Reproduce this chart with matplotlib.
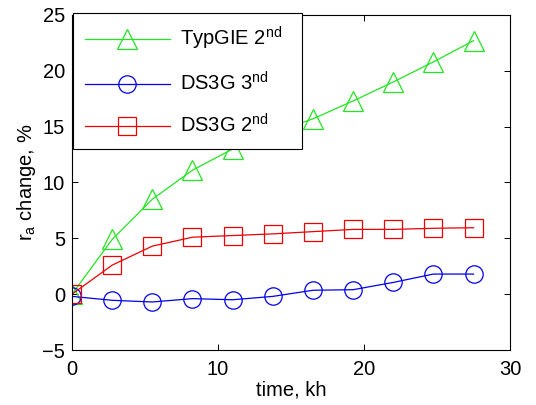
import matplotlib
matplotlib.use("Agg")
import matplotlib.pyplot as plt

time_kh = [0, 2.75, 5.5, 8.25, 11.0, 13.75, 16.5, 19.25, 22.0, 24.75, 27.5]
typgie_2nd = [0, 4.9, 8.5, 11.1, 13.0, 14.4, 15.7, 17.3, 19.0, 20.8, 22.7]
ds3g_3nd = [-0.2, -0.55, -0.7, -0.4, -0.5, -0.2, 0.35, 0.4, 1.05, 1.8, 1.8]
ds3g_2nd = [0, 2.6, 4.3, 5.1, 5.25, 5.4, 5.6, 5.8, 5.8, 5.9, 5.95]
labels = [r'TypGIE 2$^{\mathregular{nd}}$', r'DS3G 3$^{\mathregular{nd}}$', r'DS3G 2$^{\mathregular{nd}}$']
xticks = [0, 10, 20, 30]
yticks = [-5, 0, 5, 10, 15, 20, 25]

plt.rcParams['font.family'] = ['Liberation Sans', 'DejaVu Sans']
plt.rcParams['mathtext.fontset'] = 'custom'
plt.rcParams['mathtext.rm'] = 'Liberation Sans'

fig = plt.figure(figsize=(5.36, 4.05), dpi=100)
ax = fig.add_axes([72/536, 1-350/405, (510-72)/536, (350-15)/405])

green = '#22e622'
fs = 14.5
ax.plot(time_kh, typgie_2nd, color=green, lw=0.9, marker='^', ms=15, mfc='none', mec=green, mew=0.9, label=labels[0])
ax.plot(time_kh, ds3g_3nd, color='#0000ee', lw=0.9, marker='o', ms=12.5, mfc='none', mec='#0000ee', mew=0.9, label=labels[1])
ax.plot(time_kh, ds3g_2nd, color='#ee0000', lw=0.9, marker='s', ms=12.5, mfc='none', mec='#ee0000', mew=0.9, label=labels[2])

ax.set_xlim(0, 30)
ax.set_ylim(-5, 25)
ax.set_xticks(xticks)
ax.set_yticks(yticks)
ax.tick_params(direction='in', labelsize=fs, length=4, width=0.7, top=True, right=True)
ax.tick_params(axis='x', pad=7)
ax.tick_params(axis='y', pad=5)
for s in ax.spines.values():
    s.set_linewidth(0.8)
ax.set_xlabel('time, kh', fontsize=fs, labelpad=1)
ax.set_ylabel(r'r$_{\mathregular{a}}$ change, %', fontsize=fs, labelpad=3)

leg = ax.legend(loc='upper left',
                bbox_to_anchor=(73/536, 1-148/405, (302-73)/536, (148-13)/405),
                bbox_transform=fig.transFigure, mode='expand',
                fontsize=fs, handlelength=4.2, handletextpad=0.5, borderpad=0.6, labelspacing=0.95,
                fancybox=False, framealpha=1, edgecolor='black', borderaxespad=0)
leg.get_frame().set_linewidth(0.8)

fig.savefig('out.png', dpi=100)
